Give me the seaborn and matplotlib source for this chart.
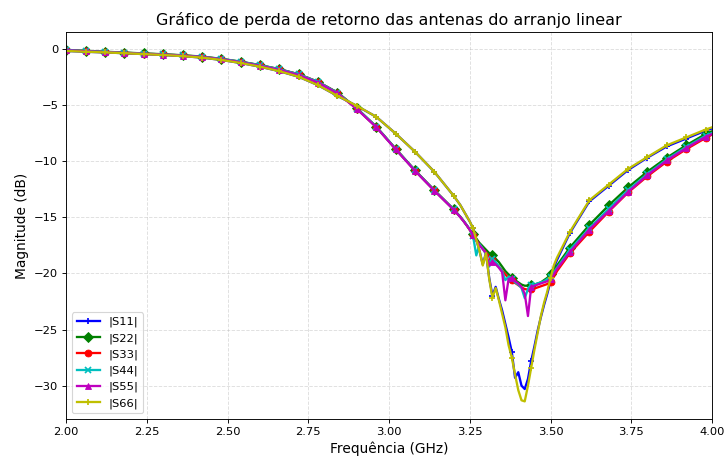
import numpy as np
import pandas as pd
import matplotlib
matplotlib.use("Agg")
import matplotlib.pyplot as plt
import seaborn as sns

# Frequency points (GHz): coarse outside the resonance, finer around it
freq_ghz = [2.00, 2.06, 2.12, 2.18, 2.24, 2.30, 2.36, 2.42, 2.48, 2.54,
            2.60, 2.66, 2.72, 2.78, 2.84, 2.90, 2.96, 3.02, 3.08, 3.14,
            3.20, 3.22, 3.23, 3.24, 3.25, 3.26, 3.27, 3.28, 3.29, 3.30,
            3.31, 3.32, 3.33, 3.34, 3.35, 3.36, 3.37, 3.38, 3.39, 3.40,
            3.41, 3.42, 3.43, 3.44, 3.45, 3.46, 3.47, 3.48, 3.49, 3.50,
            3.51, 3.52, 3.56, 3.62, 3.68, 3.74, 3.80, 3.86, 3.92, 3.98,
            4.00]

s11_db = [-0.20, -0.27, -0.33, -0.40, -0.48, -0.56, -0.66, -0.79, -1.00, -1.27,
          -1.60, -2.00, -2.50, -3.25, -4.20, -5.10, -6.06, -7.55, -9.17, -10.96,
          -13.10, -13.90, -14.40, -14.90, -15.40, -16.00, -17.00, -18.00, -19.20, -18.20,
          -20.40, -22.00, -21.20, -22.30, -23.30, -24.50, -25.70, -27.00, -29.30, -28.80,
          -30.00, -30.30, -29.40, -27.80, -26.50, -25.10, -23.90, -22.80, -21.80, -20.70,
          -19.50, -18.80, -16.40, -13.60, -12.20, -10.80, -9.70, -8.70, -8.00, -7.30,
          -7.10]
s22_db = [-0.10, -0.19, -0.27, -0.34, -0.42, -0.49, -0.58, -0.70, -0.90, -1.15,
          -1.46, -1.82, -2.28, -2.95, -3.90, -5.30, -6.93, -8.90, -10.82, -12.60,
          -14.30, -14.95, -15.30, -15.70, -16.10, -16.50, -16.90, -17.30, -17.60, -17.90,
          -18.20, -18.40, -18.70, -19.00, -19.40, -19.80, -20.10, -20.40, -20.60, -20.80,
          -21.00, -21.10, -21.10, -21.00, -21.00, -20.90, -20.80, -20.60, -20.40, -20.10,
          -19.70, -19.30, -17.70, -15.70, -13.95, -12.35, -10.95, -9.70, -8.60, -7.60,
          -7.35]
s33_db = [-0.12, -0.21, -0.29, -0.36, -0.44, -0.51, -0.60, -0.72, -0.92, -1.17,
          -1.48, -1.83, -2.28, -2.95, -3.92, -5.35, -6.97, -8.93, -10.85, -12.62,
          -14.32, -14.97, -15.33, -15.72, -16.15, -16.60, -17.05, -17.45, -17.80, -18.15,
          -18.50, -18.80, -19.10, -19.40, -19.75, -20.10, -20.40, -20.60, -20.85, -21.05,
          -21.25, -21.40, -21.45, -21.40, -21.35, -21.25, -21.15, -21.05, -20.95, -20.80,
          -20.30, -19.80, -18.20, -16.30, -14.50, -12.80, -11.35, -10.05, -8.95, -7.95,
          -7.65]
s44_db = [-0.12, -0.21, -0.29, -0.36, -0.44, -0.51, -0.60, -0.72, -0.91, -1.16,
          -1.47, -1.83, -2.29, -2.96, -3.93, -5.33, -6.95, -8.92, -10.84, -12.61,
          -14.31, -14.96, -15.32, -15.70, -16.10, -16.70, -18.40, -17.40, -17.80, -18.30,
          -19.40, -18.70, -19.00, -19.40, -19.80, -20.60, -20.30, -20.50, -20.80, -21.00,
          -21.30, -22.20, -21.40, -21.00, -21.00, -20.90, -20.80, -20.70, -20.50, -20.30,
          -19.90, -19.50, -17.90, -16.00, -14.25, -12.60, -11.15, -9.85, -8.75, -7.75,
          -7.50]
s55_db = [-0.14, -0.23, -0.31, -0.38, -0.46, -0.53, -0.62, -0.74, -0.94, -1.20,
          -1.52, -1.88, -2.35, -3.02, -3.98, -5.37, -6.98, -8.95, -10.87, -12.64,
          -14.34, -14.98, -15.34, -15.72, -16.12, -16.62, -17.10, -17.50, -17.85, -18.20,
          -19.30, -18.95, -19.20, -19.50, -19.90, -22.40, -20.50, -20.40, -20.70, -20.90,
          -21.20, -21.80, -23.80, -21.20, -21.10, -21.00, -20.90, -20.80, -20.70, -20.50,
          -20.10, -19.60, -18.10, -16.10, -14.45, -12.75, -11.25, -9.95, -8.85, -7.85,
          -7.60]
s66_db = [-0.20, -0.27, -0.33, -0.40, -0.48, -0.56, -0.66, -0.79, -1.00, -1.27,
          -1.60, -2.00, -2.50, -3.25, -4.20, -5.08, -6.06, -7.55, -9.17, -10.96,
          -13.10, -13.90, -14.40, -14.90, -15.40, -16.00, -17.00, -18.00, -19.30, -18.20,
          -20.50, -22.20, -21.30, -22.40, -23.60, -24.80, -26.40, -27.50, -29.00, -30.40,
          -31.30, -31.40, -30.00, -28.40, -26.80, -25.30, -23.80, -22.60, -21.60, -20.40,
          -19.30, -18.60, -16.30, -13.50, -12.10, -10.70, -9.64, -8.60, -7.90, -7.20,
          -7.00]

series_names = ["|S11|", "|S22|", "|S33|", "|S44|", "|S55|", "|S66|"]
series_values = [s11_db, s22_db, s33_db, s44_db, s55_db, s66_db]
colors = ["b", "g", "r", "c", "m", "y"]
markers = ["+", "D", "o", "x", "^", "+"]

df = pd.DataFrame({"freq": freq_ghz})
for name, vals in zip(series_names, series_values):
    df[name] = vals

# markers only on the 60 MHz grid
steps = (df["freq"] - 2.0) / 0.06
show_marker = list(np.isclose(steps, np.round(steps), atol=1e-6) & (df["freq"] < 3.99))

fig, ax = plt.subplots(figsize=(8.8, 5.54), dpi=82.5)

for name, c, m in zip(series_names, colors, markers):
    sns.lineplot(data=df, x="freq", y=name, ax=ax, color=c, marker=m,
                 markersize=6, markevery=show_marker, linewidth=2,
                 markeredgecolor=c, markeredgewidth=1.5 if m in "+x" else 0.75,
                 label=name)

ax.set_xlim(2.0, 4.0)
ax.set_title("Gráfico de perda de retorno das antenas do arranjo linear", fontsize=14)
ax.set_xlabel("Frequência (GHz)", fontsize=12)
ax.set_ylabel("Magnitude (dB)", fontsize=12)
ax.grid(True, linestyle="--", alpha=0.4)
ax.legend(loc="lower left", fontsize=10)

fig.subplots_adjust(left=0.0913, right=0.9807, top=0.9293, bottom=0.0832)
fig.savefig("out.png", dpi=82.5)
